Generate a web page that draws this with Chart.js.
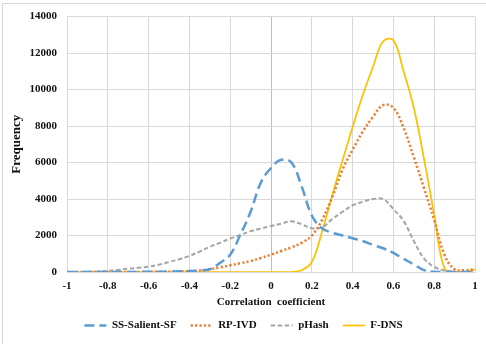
<!DOCTYPE html>
<html>
<head>
<meta charset="utf-8">
<script src="https://cdn.jsdelivr.net/npm/chart.js@4.4.1/dist/chart.umd.min.js"></script>
<style>
  html, body { margin: 0; padding: 0; background: #fff; overflow: hidden; }
  #wrap { position: relative; width: 486px; height: 344px; }
  #frame { position: absolute; left: 2px; top: 3px; width: 520px; height: 400px; border: 1px solid #d9d9d9; pointer-events: none; }
  canvas { position: absolute; left: 0; top: 0; }
</style>
</head>
<body>
<div id="wrap">
  <canvas id="chart" width="486" height="344"></canvas>
  <div id="frame"></div>
</div>
<script>
// correlation coefficient bins, -1 .. 1 step 0.05
var coef = [];
for (var i = 0; i <= 40; i++) coef.push(Math.round((-1 + i * 0.05) * 100) / 100);

var ssSalient = [0, 0, 0, 0, 0, 0, 0, 5, 10, 15, 25,
  35, 50, 80, 150, 500, 950, 2050, 3300, 4900, 5700,
  6150, 6000, 4700, 3100, 2400, 2150, 2000, 1850, 1700, 1480,
  1300, 1050, 720, 420, 100, 10, 0, 0, 0, 0];

var rpIvd = [0, 0, 0, 0, 0, 0, 0, 0, 5, 10, 15,
  25, 40, 80, 150, 250, 370, 480, 600, 770, 950,
  1150, 1350, 1600, 2000, 2850, 4100, 5600, 6700, 7700, 8500,
  9150, 9000, 7900, 6300, 4600, 2850, 950, 150, 100, 150];

var pHash = [0, 0, 10, 30, 60, 110, 180, 230, 290, 400, 550,
  700, 880, 1120, 1380, 1600, 1830, 2030, 2240, 2380, 2520,
  2650, 2780, 2620, 2400, 2450, 2900, 3300, 3650, 3850, 4000,
  4000, 3450, 2800, 1700, 750, 280, 80, 20, 0, 0];

var fDns = [0, 0, 0, 0, 0, 0, 0, 0, 0, 0, 0,
  0, 0, 0, 0, 0, 0, 0, 0, 0, 0,
  0, 0, 100, 550, 2200, 4200, 6100, 7950, 9700, 11250,
  12650, 12700, 11000, 9000, 6200, 3150, 200, 0, 0, 150];

function pts(arr) {
  return arr.map(function (v, i) { return { x: coef[i], y: v }; });
}

var FONT = "'Liberation Serif', 'Times New Roman', serif";

// nudge the legend a little right, like the excel original
var legendShift = {
  id: 'legendShift',
  afterLayout: function (chart) {
    if (chart.legend) { chart.legend.left += 6; chart.legend.right += 6; }
  }
};

var ctx = document.getElementById('chart').getContext('2d');
new Chart(ctx, {
  type: 'line',
  data: {
    datasets: [{
      label: 'SS-Salient-SF',
      data: pts(ssSalient),
      borderColor: '#5B9BD5',
      backgroundColor: 'rgba(0,0,0,0)',
      borderWidth: 2.5,
      borderDash: [10, 5]
    }, {
      label: 'RP-IVD',
      data: pts(rpIvd),
      borderColor: '#ED7D31',
      backgroundColor: 'rgba(0,0,0,0)',
      borderWidth: 2.5,
      borderDash: [2.2, 2.2]
    }, {
      label: 'pHash',
      data: pts(pHash),
      borderColor: '#A5A5A5',
      backgroundColor: 'rgba(0,0,0,0)',
      borderWidth: 2,
      borderDash: [4.5, 2.5]
    }, {
      label: 'F-DNS',
      data: pts(fDns),
      borderColor: '#FFC000',
      backgroundColor: 'rgba(0,0,0,0)',
      borderWidth: 1.75
    }]
  },
  options: {
    responsive: false,
    animation: false,
    layout: { padding: { top: 16, right: 11, bottom: 3, left: 0 } },
    elements: {
      point: { radius: 0, hoverRadius: 0 },
      line: { tension: 0.4, fill: false }
    },
    plugins: {
      tooltip: { enabled: false },
      legend: {
        position: 'bottom',
        labels: {
          usePointStyle: true,
          pointStyle: 'line',
          pointStyleWidth: 22,
          boxHeight: 11,
          padding: 14,
          color: '#111',
          font: { family: FONT, size: 11, weight: 'bold' },
          generateLabels: function (chart) {
            var items = Chart.defaults.plugins.legend.labels.generateLabels(chart);
            items.forEach(function (it) {
              var ds = chart.data.datasets[it.datasetIndex];
              it.lineDash = ds.borderDash || [];
              it.lineWidth = ds.borderWidth;
              it.strokeStyle = ds.borderColor;
              it.pointStyle = 'line';
            });
            return items;
          }
        }
      }
    },
    scales: {
      x: {
        type: 'linear',
        min: -1,
        max: 1,
        afterFit: function (s) { s.height = 34; },
        grid: {
          drawTicks: false,
          color: function (c) { return c.tick && Math.abs(c.tick.value) < 1e-9 ? '#BFBFBF' : '#D9D9D9'; }
        },
        border: { display: true, color: '#D9D9D9' },
        ticks: {
          stepSize: 0.2,
          padding: 8,
          maxRotation: 0,
          color: '#111',
          font: { family: FONT, size: 11, weight: 'bold' },
          callback: function (v) { return String(Math.round(v * 10) / 10); }
        },
        title: {
          display: true,
          text: 'Correlation  coefficient',
          color: '#111',
          padding: { top: 0, bottom: -3 },
          font: { family: FONT, size: 11, weight: 'bold' }
        }
      },
      y: {
        min: 0,
        max: 14000,
        afterFit: function (s) { s.width = 67; },
        grid: { drawTicks: false, color: '#D9D9D9' },
        border: { display: false },
        ticks: {
          stepSize: 2000,
          padding: 10,
          color: '#111',
          font: { family: FONT, size: 11, weight: 'bold' },
          callback: function (v) { return String(v); }
        },
        title: {
          display: true,
          text: 'Frequency',
          color: '#111',
          padding: { top: 9, bottom: 0 },
          font: { family: FONT, size: 13, weight: 'bold' }
        }
      }
    }
  },
  plugins: [legendShift]
});
</script>
</body>
</html>
